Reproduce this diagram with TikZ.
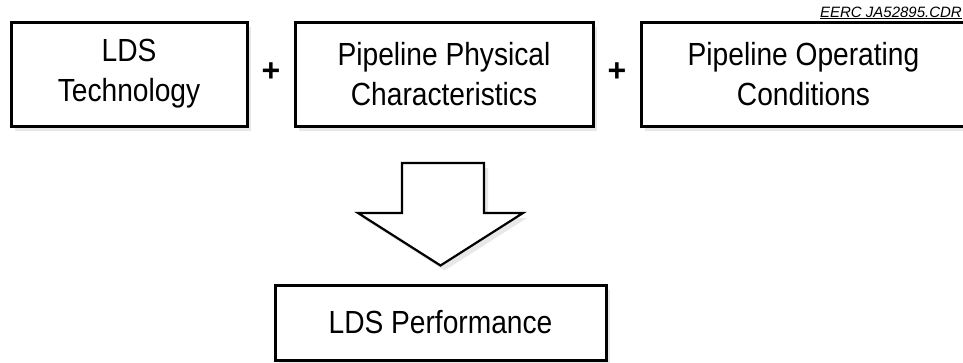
\documentclass[tikz,border=0pt]{standalone}
\usepackage{fontspec}
\usepackage{graphicx}
\setmainfont{Liberation Sans}
\usetikzlibrary{positioning,shadows,calc}
\newcommand{\squeeze}[1]{\scalebox{0.88}[1.0]{#1}}
\tikzset{
  block/.style={rectangle, draw=black, line width=3pt, fill=white, align=center,
    minimum height=104pt, inner sep=0pt, font=\fontsize{32}{40}\selectfont,
    drop shadow={opacity=0.18, shadow xshift=4pt, shadow yshift=-5pt}},
  plus/.style={font=\fontsize{32}{32}\selectfont\bfseries, inner sep=0pt},
  bigarrow/.style={draw=black, line width=2.2pt, fill=white, line join=miter,
    drop shadow={opacity=0.18, shadow xshift=4pt, shadow yshift=-5pt}}
}

\begin{document}
\begin{tikzpicture}[x=1pt, y=1pt, node distance=45pt]
  \useasboundingbox (0,0) rectangle (963,-362);
  \node[block, minimum width=236pt] (Tech) at (129,-74) {\squeeze{LDS}\\\squeeze{Technology}};
  \node[block, minimum width=298pt] (Phys) [right=of Tech] {\squeeze{Pipeline Physical}\\\squeeze{Characteristics}};
  \node[block, minimum width=325pt] (Oper) [right=of Phys] {\squeeze{Pipeline Operating}\\\squeeze{Conditions}};
  \node[plus] (PlusA) at ($(Tech.east)!0.5!(Phys.west)+(0,2)$) {+};
  \node[plus] (PlusB) at ($(Phys.east)!0.5!(Oper.west)+(0,2)$) {+};
  \node[anchor=base east, inner sep=0pt, font=\fontsize{15}{15}\selectfont\itshape]
    (Ref) at (962,-17) {\underline{EERC JA52895.CDR}};
    \node[block, minimum width=331pt, minimum height=75pt] (Perf) at (440.5,-322.5) {\squeeze{LDS Performance}};
    
    \path[bigarrow] (402,-163) -- (484,-163) -- (484,-213) -- (523,-213)
      -- ($(Perf.north)+(0,-267+285)$) -- (358,-213) -- (402,-213) -- cycle;
\end{tikzpicture}
\end{document}
